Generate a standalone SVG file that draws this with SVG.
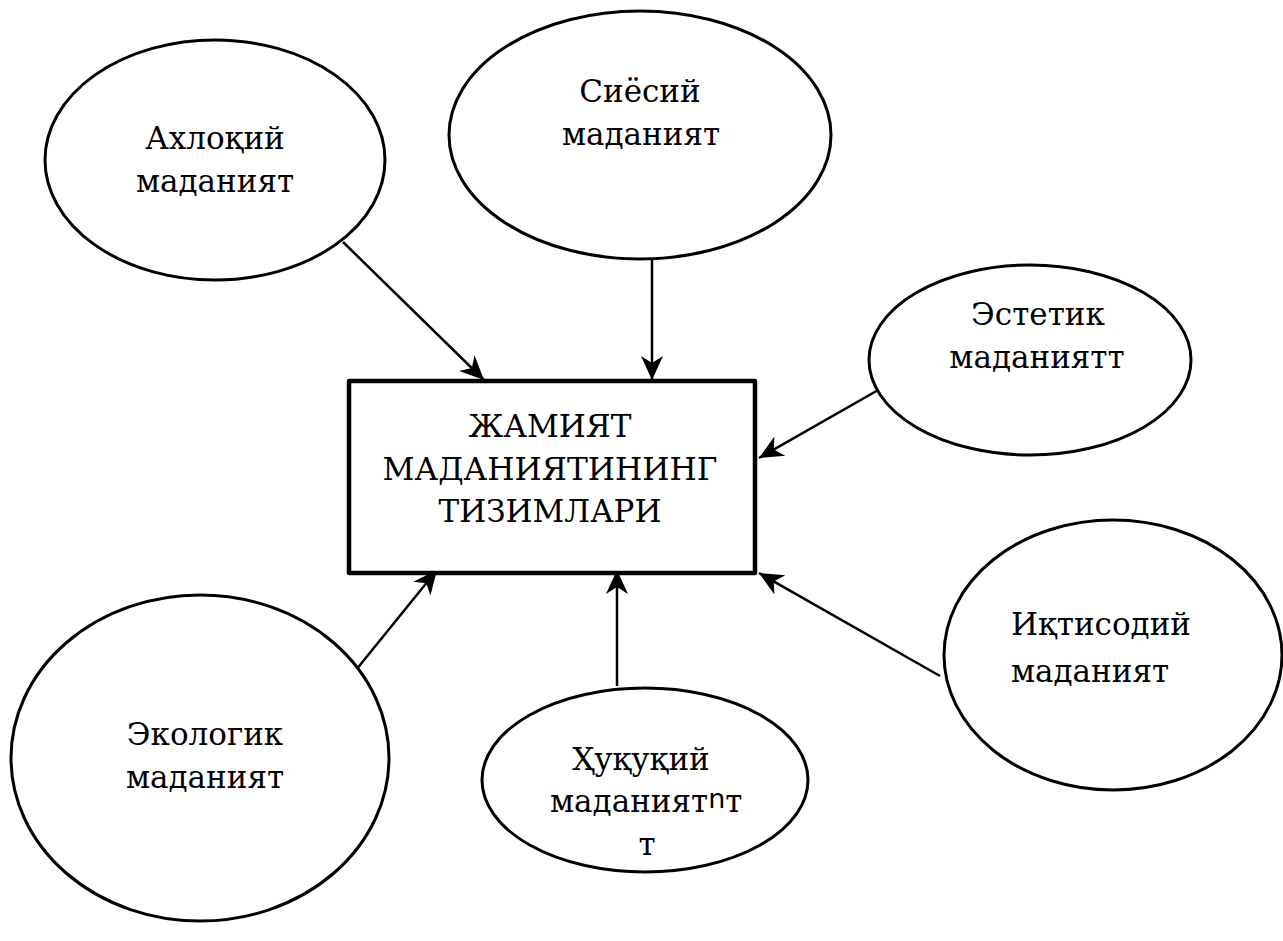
<svg xmlns="http://www.w3.org/2000/svg" width="1283" height="941" viewBox="0 0 1283 941">
<style>
.e{fill:#fff;stroke:#000;stroke-width:3}
.c{stroke:#000;stroke-width:2.5;fill:none}
</style>
<defs>
<marker id="a" viewBox="-24 -12 26 24" refX="0" refY="0" markerWidth="26" markerHeight="24" markerUnits="userSpaceOnUse" orient="auto">
<path d="M0,0 L-24,-11 L-17,0 L-24,11 Z" fill="#000"/>
</marker>
</defs>
<rect width="1283" height="941" fill="#fff"/>
<g id="connectors">
<line class="c" x1="343" y1="242" x2="484" y2="380" marker-end="url(#a)"/>
<line class="c" x1="652" y1="243" x2="652" y2="380" marker-end="url(#a)"/>
<line class="c" x1="887" y1="385" x2="759" y2="458" marker-end="url(#a)"/>
<line class="c" x1="940" y1="676" x2="759" y2="573" marker-end="url(#a)"/>
<line class="c" x1="617" y1="686" x2="617" y2="570" marker-end="url(#a)"/>
<line class="c" x1="343" y1="686" x2="437" y2="570" marker-end="url(#a)"/>
</g>
<g font-family="DejaVu Serif, Liberation Serif, serif" font-size="31" fill="#000">
<g id="center">
<rect x="349" y="381" width="406" height="192" fill="#fff" stroke="#000" stroke-width="4.5" stroke-linejoin="round"/>
<text text-anchor="middle" x="550" y="437">ЖАМИЯТ</text>
<text text-anchor="middle" x="550" y="480" textLength="335" lengthAdjust="spacingAndGlyphs">МАДАНИЯТИНИНГ</text>
<text text-anchor="middle" x="550" y="522">ТИЗИМЛАРИ</text>
</g>
<g id="axloqiy">
<ellipse class="e" cx="215" cy="160" rx="170" ry="120"/>
<text text-anchor="middle" x="215" y="149">Ахлоқий</text>
<text text-anchor="middle" x="215" y="192">маданият</text>
</g>
<g id="siyosiy">
<ellipse class="e" cx="640" cy="135" rx="191" ry="124"/>
<text text-anchor="middle" x="640" y="102">Сиёсий</text>
<text text-anchor="middle" x="641" y="145">маданият</text>
</g>
<g id="estetik">
<ellipse class="e" cx="1030" cy="360" rx="161" ry="95"/>
<text text-anchor="middle" x="1038" y="325">Эстетик</text>
<text text-anchor="middle" x="1037" y="368">маданиятт</text>
</g>
<g id="iqtisodiy">
<ellipse class="e" cx="1113" cy="655" rx="169" ry="135"/>
<text text-anchor="middle" x="1101" y="635">Иқтисодий</text>
<text text-anchor="middle" x="1090" y="682">маданият</text>
</g>
<g id="ekologik">
<ellipse class="e" cx="200" cy="758" rx="189" ry="163"/>
<text text-anchor="middle" x="205" y="745">Экологик</text>
<text text-anchor="middle" x="205" y="788">маданият</text>
</g>
<g id="huquqiy">
<ellipse class="e" cx="645" cy="780" rx="163" ry="92"/>
<text text-anchor="middle" x="641" y="770">Ҳуқуқий</text>
<text x="550" y="812">маданият<tspan font-family="DejaVu Sans, sans-serif" font-size="27" dy="-4">n</tspan><tspan dy="4">т</tspan></text>
<text text-anchor="middle" x="647" y="855">т</text>
</g>
</g>
</svg>
